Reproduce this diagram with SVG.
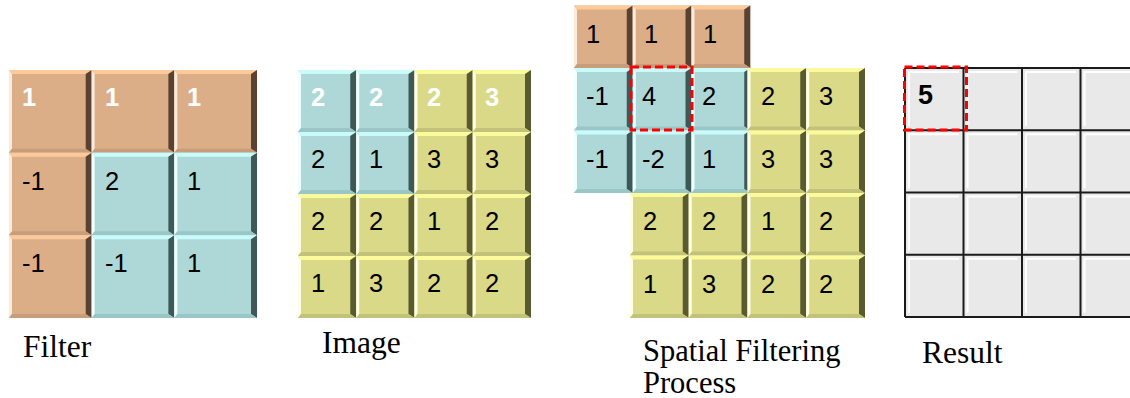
<svg xmlns="http://www.w3.org/2000/svg" xmlns:xlink="http://www.w3.org/1999/xlink" width="1130" height="398" viewBox="0 0 1130 398">
<style>
.o{--b:#dcae87;--t:#fcc99b;--l:#fbe9da;--r:#5a4232;--d:#c69e7c}
.c{--b:#aed8d8;--t:#c9fbfb;--l:#f0ffff;--r:#3e5858;--d:#9ac6c6}
.y{--b:#d9d988;--t:#fbfb9c;--l:#ffffe8;--r:#5a5a30;--d:#c2c27a}
.bb{fill:var(--b)}.bt{fill:var(--t)}.bl{fill:var(--l)}.br{fill:var(--r)}.bd{fill:var(--d)}
.n{font-family:"Liberation Sans",Arial,sans-serif;font-size:25.5px;fill:#000}
.w{fill:#fff;font-weight:bold}
.lab{font-family:"Liberation Serif","Times New Roman",serif;font-size:31.5px;fill:#000}
.dash{fill:none;stroke:#f00;stroke-width:3;stroke-dasharray:8 4}
.rc{fill:#e9e9e9}
.hl{fill:none;stroke:#fff;stroke-width:2}
.gl{stroke:#1a1a1a;stroke-width:2;fill:none}
</style>
<defs>
<g id="cF">
<rect class="bb" width="82.7" height="82.7"/>
<path class="bt" d="M0,0H82.7L76.7,4H3Z"/>
<path class="bl" d="M0,0L3,4V78.7L0,82.7Z"/>
<path class="br" d="M82.7,0V82.7L76.7,78.7V4Z"/>
<path class="bd" d="M0,82.7L3,78.7H76.7L82.7,82.7Z"/>
</g>
<g id="cI">
<rect class="bb" width="58.25" height="62"/>
<path class="bt" d="M0,0H58.25L52.25,4H3Z"/>
<path class="bl" d="M0,0L3,4V58L0,62Z"/>
<path class="br" d="M58.25,0V62L52.25,58V4Z"/>
<path class="bd" d="M0,62L3,58H52.25L58.25,62Z"/>
</g>
<g id="cS">
<rect class="bb" width="58.75" height="62.5"/>
<path class="bt" d="M0,0H58.75L52.75,4H3Z"/>
<path class="bl" d="M0,0L3,4V58.5L0,62.5Z"/>
<path class="br" d="M58.75,0V62.5L52.75,58.5V4Z"/>
<path class="bd" d="M0,62.5L3,58.5H52.75L58.75,62.5Z"/>
</g>
<g id="cR">
<rect class="rc" width="58.5" height="62.25"/>
<path class="hl" d="M4,58V4H54"/>
</g>
</defs>

<g id="filter">
<use href="#cF" x="9" y="70" class="o"/><use href="#cF" x="91.67" y="70" class="o"/><use href="#cF" x="174.33" y="70" class="o"/>
<use href="#cF" x="9" y="152.67" class="o"/><use href="#cF" x="91.67" y="152.67" class="c"/><use href="#cF" x="174.33" y="152.67" class="c"/>
<use href="#cF" x="9" y="235.33" class="o"/><use href="#cF" x="91.67" y="235.33" class="c"/><use href="#cF" x="174.33" y="235.33" class="c"/>
<text class="n w" x="22" y="106">1</text><text class="n w" x="105" y="106">1</text><text class="n w" x="187" y="106">1</text>
<text class="n" x="22" y="190">-1</text><text class="n" x="105" y="190">2</text><text class="n" x="187" y="190">1</text>
<text class="n" x="22" y="272">-1</text><text class="n" x="105" y="272">-1</text><text class="n" x="187" y="272">1</text>
<text class="lab" x="23" y="357">Filter</text>
</g>

<g id="image">
<use href="#cI" x="298" y="70" class="c"/><use href="#cI" x="356.25" y="70" class="c"/><use href="#cI" x="414.5" y="70" class="y"/><use href="#cI" x="472.75" y="70" class="y"/>
<use href="#cI" x="298" y="132" class="c"/><use href="#cI" x="356.25" y="132" class="c"/><use href="#cI" x="414.5" y="132" class="y"/><use href="#cI" x="472.75" y="132" class="y"/>
<use href="#cI" x="298" y="194" class="y"/><use href="#cI" x="356.25" y="194" class="y"/><use href="#cI" x="414.5" y="194" class="y"/><use href="#cI" x="472.75" y="194" class="y"/>
<use href="#cI" x="298" y="256" class="y"/><use href="#cI" x="356.25" y="256" class="y"/><use href="#cI" x="414.5" y="256" class="y"/><use href="#cI" x="472.75" y="256" class="y"/>
<text class="n w" x="311" y="106">2</text><text class="n w" x="369" y="106">2</text><text class="n w" x="427" y="106">2</text><text class="n w" x="485" y="106">3</text>
<text class="n" x="311" y="168">2</text><text class="n" x="369" y="168">1</text><text class="n" x="427" y="168">3</text><text class="n" x="485" y="168">3</text>
<text class="n" x="311" y="230">2</text><text class="n" x="369" y="230">2</text><text class="n" x="427" y="230">1</text><text class="n" x="485" y="230">2</text>
<text class="n" x="311" y="292">1</text><text class="n" x="369" y="292">3</text><text class="n" x="427" y="292">2</text><text class="n" x="485" y="292">2</text>
<text class="lab" x="322" y="353">Image</text>
</g>

<g id="process">
<use href="#cS" x="574" y="5.5" class="o"/><use href="#cS" x="632.75" y="5.5" class="o"/><use href="#cS" x="691.5" y="5.5" class="o"/>
<use href="#cS" x="574" y="68" class="c"/><use href="#cS" x="632.75" y="68" class="c"/><use href="#cS" x="691.5" y="68" class="c"/>
<use href="#cS" x="574" y="130.5" class="c"/><use href="#cS" x="632.75" y="130.5" class="c"/><use href="#cS" x="691.5" y="130.5" class="c"/>
<use href="#cS" x="747.5" y="68" class="y"/><use href="#cS" x="806.25" y="68" class="y"/>
<use href="#cS" x="747.5" y="130.5" class="y"/><use href="#cS" x="806.25" y="130.5" class="y"/>
<use href="#cS" x="630" y="193" class="y"/><use href="#cS" x="688.75" y="193" class="y"/><use href="#cS" x="747.5" y="193" class="y"/><use href="#cS" x="806.25" y="193" class="y"/>
<use href="#cS" x="630" y="255.5" class="y"/><use href="#cS" x="688.75" y="255.5" class="y"/><use href="#cS" x="747.5" y="255.5" class="y"/><use href="#cS" x="806.25" y="255.5" class="y"/>
<text class="n" x="586" y="43">1</text><text class="n" x="644" y="43">1</text><text class="n" x="703" y="43">1</text>
<text class="n" x="586" y="105">-1</text><text class="n" x="642" y="105">4</text><text class="n" x="702" y="105">2</text><text class="n" x="761" y="105">2</text><text class="n" x="819" y="105">3</text>
<text class="n" x="586" y="168">-1</text><text class="n" x="642" y="168">-2</text><text class="n" x="702" y="168">1</text><text class="n" x="761" y="168">3</text><text class="n" x="819" y="168">3</text>
<text class="n" x="643" y="230">2</text><text class="n" x="702" y="230">2</text><text class="n" x="761" y="230">1</text><text class="n" x="819" y="230">2</text>
<text class="n" x="643" y="293">1</text><text class="n" x="702" y="293">3</text><text class="n" x="761" y="293">2</text><text class="n" x="819" y="293">2</text>
<rect class="dash" x="631" y="67" width="61" height="63"/>
<text class="lab" x="643" y="361" style="font-size:30.5px">Spatial Filtering</text>
<text class="lab" x="643" y="393" style="font-size:30.5px">Process</text>
</g>

<g id="result">
<use href="#cR" x="905" y="68"/><use href="#cR" x="963.5" y="68"/><use href="#cR" x="1022" y="68"/><use href="#cR" x="1080.5" y="68"/>
<use href="#cR" x="905" y="130.25"/><use href="#cR" x="963.5" y="130.25"/><use href="#cR" x="1022" y="130.25"/><use href="#cR" x="1080.5" y="130.25"/>
<use href="#cR" x="905" y="192.5"/><use href="#cR" x="963.5" y="192.5"/><use href="#cR" x="1022" y="192.5"/><use href="#cR" x="1080.5" y="192.5"/>
<use href="#cR" x="905" y="254.75"/><use href="#cR" x="963.5" y="254.75"/><use href="#cR" x="1022" y="254.75"/><use href="#cR" x="1080.5" y="254.75"/>
<path class="gl" d="M905,68H1130M905,130.25H1130M905,192.5H1130M905,254.75H1130M905,317H1130M905,68V317M963.5,68V317M1022,68V317M1080.5,68V317"/>
<rect class="dash" x="904.5" y="67" width="62" height="63"/>
<text class="n" x="918" y="104" style="font-weight:bold;font-size:27px">5</text>
<text class="lab" x="922" y="363">Result</text>
</g>
<g id="connectors"/>
</svg>
